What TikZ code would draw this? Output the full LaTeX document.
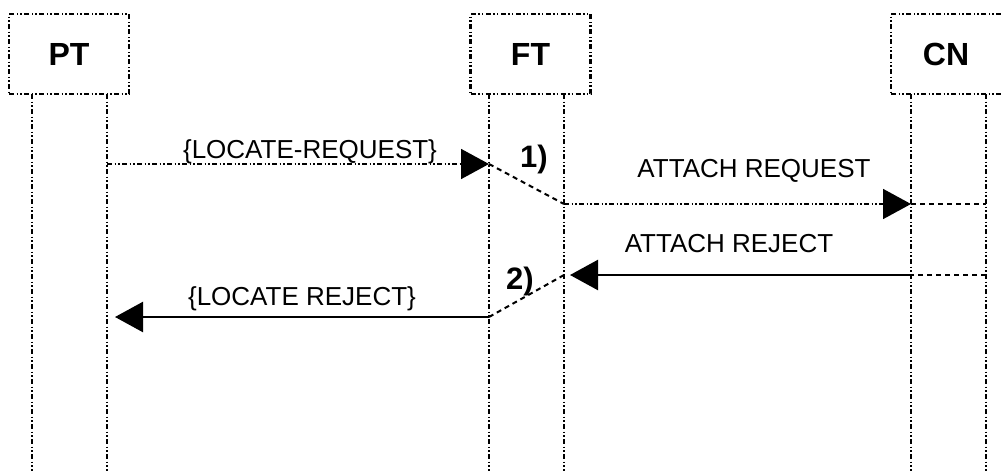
\documentclass[tikz,border=0pt]{standalone}
\usepackage{fontspec}
\setmainfont{Liberation Sans}
\usetikzlibrary{arrows.meta}
\begin{document}
\begin{tikzpicture}[x=1pt,y=-1pt,
  ddd/.style={dash pattern=on 5pt off 2.5pt on 1.5pt off 2pt on 1.5pt off 2.5pt},
  entity/.style={draw, ddd, line width=2.1pt, minimum width=120pt, minimum height=80pt, inner sep=0pt, font=\fontsize{32}{38}\selectfont\bfseries},
  life/.style={ddd, line width=2.1pt},
  msgdot/.style={ddd, line width=1.7pt},
  msg/.style={line width=2.4pt},
  link/.style={line width=2pt, dash pattern=on 5pt off 4pt},
  tip/.style={-{Triangle[length=28pt,width=30pt]}},
  lbl/.style={font=\fontsize{26}{31}\selectfont, anchor=base, inner sep=0pt},
  num/.style={font=\fontsize{31}{36}\selectfont\bfseries, inner sep=0pt}]
\path[use as bounding box, clip] (0,0) rectangle (1001,471);
% entities
\node[entity] (PT) at (69,54) {PT};
\node[entity] (FT) at (530.5,54) {FT};
\node[entity] (CN) at (951,54) {\hspace*{-10pt}CN};
% lifeline coordinates
\coordinate (pt1t) at (32,94);   \coordinate (pt1b) at (32,471);
\coordinate (pt2t) at (107,94);  \coordinate (pt2b) at (107,471);
\coordinate (ft1t) at (489,94);  \coordinate (ft1b) at (489,471);
\coordinate (ft2t) at (564,94);  \coordinate (ft2b) at (564,471);
\coordinate (cn1t) at (911,94);  \coordinate (cn1b) at (911,471);
\coordinate (cn2t) at (986,94);  \coordinate (cn2b) at (986,471);
\foreach \a in {pt1,pt2,ft1,ft2,cn1,cn2} \draw[life] (\a t) -- (\a b);
% message points
\coordinate (m1s) at (107,164); \coordinate (m1e) at (489,164);
\coordinate (m2s) at (564,204); \coordinate (m2e) at (911,204);
\coordinate (m2r) at (986,204);
\coordinate (m3r) at (986,275); \coordinate (m3s) at (911,275); \coordinate (m3e) at (564,275);
\coordinate (m4s) at (489,317); \coordinate (m4e) at (107,317);
% messages
\draw[msgdot, tip] (m1s) -- (m1e);
\draw[link] (m1e) -- (m2s);
\draw[msgdot, tip] (m2s) -- (m2e);
\draw[link] (m2e) -- (m2r);
\draw[link] (m3r) -- (m3s);
\draw[msg, tip, shorten >=6pt] (m3s) -- (m3e);
\draw[link] (m3e) -- (m4s);
\draw[msg, tip, shorten >=8pt] (m4s) -- (m4e);
% labels
\node[lbl] (l1) at (310,158) {\{LOCATE-REQUEST\}};
\node[lbl] (l2) at (754,177) {ATTACH REQUEST};
\node[lbl] (l3) at (729,252) {ATTACH REJECT};
\node[lbl] (l4) at (302,305) {\{LOCATE REJECT\}};
\node[num] (n1) at (534,159) {1)};
\node[num] (n2) at (520,281) {2)};
\end{tikzpicture}
\end{document}
